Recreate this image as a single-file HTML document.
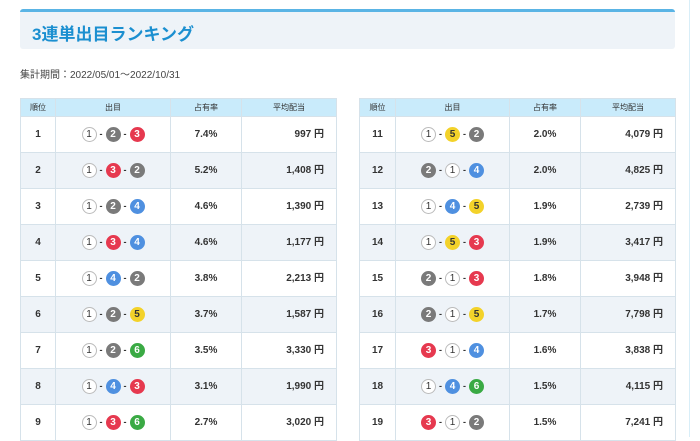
<!DOCTYPE html><html><head><meta charset="utf-8"><style>
body{margin:0;width:700px;height:437px;background:#fff;overflow:hidden;font-family:"Liberation Sans","Noto Sans CJK JP",sans-serif;color:#333;position:relative}
.hd{position:absolute;left:20px;top:9px;width:655px;height:37px;background:#eef3f8;border-top:3px solid #5ab4e5;border-radius:3px}
.hd span{position:absolute;left:12px;top:8px;font-size:17px;font-weight:bold;color:#1b8fd0}
.per{position:absolute;left:20px;top:66px;font-size:10px;color:#444}
table{position:absolute;top:98px;border-collapse:collapse;font-size:10px;table-layout:fixed}
td,th{border:1px solid #d6e2ea;padding:0;text-align:center;vertical-align:middle}
th{background:#c9ebfb;height:17px;font-weight:normal;font-size:8px;color:#333;line-height:17px}
td{height:35px;font-weight:bold;line-height:15px}
tr:nth-child(odd) td{background:#eef3f8}
td.y{text-align:right;padding-right:12px}
.b{display:inline-block;width:15px;height:15px;border-radius:50%;line-height:15px;font-size:10px;font-weight:bold;color:#fff;vertical-align:middle;box-sizing:border-box;text-align:center}
.d{display:inline-block;margin:0 3px;font-size:9px;vertical-align:middle}
.c1{background:#fff;border:1px solid #bbb;color:#333;line-height:13px;font-weight:normal}
.c2{background:#7a7a7a}.c3{background:#e6394f}.c4{background:#4f90e0}.c5{background:#f3d22a;color:#333}.c6{background:#3aaa44}
.sb{position:absolute;left:689px;top:0;width:1px;height:437px;background:#d8eef8}
</style></head><body>
<div class="hd"><span>3連単出目ランキング</span></div>
<div class="per">集計期間：2022/05/01～2022/10/31</div>
<div class="sb"></div>
<table style="left:20px;width:317px">
<tr><th style="width:34px">順位</th><th style="width:114px">出目</th><th style="width:70px">占有率</th><th>平均配当</th></tr>
<tr><td>1</td><td><span class="b c1">1</span><span class="d">-</span><span class="b c2">2</span><span class="d">-</span><span class="b c3">3</span></td><td>7.4%</td><td class="y">997 円</td></tr>
<tr><td>2</td><td><span class="b c1">1</span><span class="d">-</span><span class="b c3">3</span><span class="d">-</span><span class="b c2">2</span></td><td>5.2%</td><td class="y">1,408 円</td></tr>
<tr><td>3</td><td><span class="b c1">1</span><span class="d">-</span><span class="b c2">2</span><span class="d">-</span><span class="b c4">4</span></td><td>4.6%</td><td class="y">1,390 円</td></tr>
<tr><td>4</td><td><span class="b c1">1</span><span class="d">-</span><span class="b c3">3</span><span class="d">-</span><span class="b c4">4</span></td><td>4.6%</td><td class="y">1,177 円</td></tr>
<tr><td>5</td><td><span class="b c1">1</span><span class="d">-</span><span class="b c4">4</span><span class="d">-</span><span class="b c2">2</span></td><td>3.8%</td><td class="y">2,213 円</td></tr>
<tr><td>6</td><td><span class="b c1">1</span><span class="d">-</span><span class="b c2">2</span><span class="d">-</span><span class="b c5">5</span></td><td>3.7%</td><td class="y">1,587 円</td></tr>
<tr><td>7</td><td><span class="b c1">1</span><span class="d">-</span><span class="b c2">2</span><span class="d">-</span><span class="b c6">6</span></td><td>3.5%</td><td class="y">3,330 円</td></tr>
<tr><td>8</td><td><span class="b c1">1</span><span class="d">-</span><span class="b c4">4</span><span class="d">-</span><span class="b c3">3</span></td><td>3.1%</td><td class="y">1,990 円</td></tr>
<tr><td>9</td><td><span class="b c1">1</span><span class="d">-</span><span class="b c3">3</span><span class="d">-</span><span class="b c6">6</span></td><td>2.7%</td><td class="y">3,020 円</td></tr>
</table>
<table style="left:359px;width:317px">
<tr><th style="width:35px">順位</th><th style="width:113px">出目</th><th style="width:70px">占有率</th><th>平均配当</th></tr>
<tr><td>11</td><td><span class="b c1">1</span><span class="d">-</span><span class="b c5">5</span><span class="d">-</span><span class="b c2">2</span></td><td>2.0%</td><td class="y">4,079 円</td></tr>
<tr><td>12</td><td><span class="b c2">2</span><span class="d">-</span><span class="b c1">1</span><span class="d">-</span><span class="b c4">4</span></td><td>2.0%</td><td class="y">4,825 円</td></tr>
<tr><td>13</td><td><span class="b c1">1</span><span class="d">-</span><span class="b c4">4</span><span class="d">-</span><span class="b c5">5</span></td><td>1.9%</td><td class="y">2,739 円</td></tr>
<tr><td>14</td><td><span class="b c1">1</span><span class="d">-</span><span class="b c5">5</span><span class="d">-</span><span class="b c3">3</span></td><td>1.9%</td><td class="y">3,417 円</td></tr>
<tr><td>15</td><td><span class="b c2">2</span><span class="d">-</span><span class="b c1">1</span><span class="d">-</span><span class="b c3">3</span></td><td>1.8%</td><td class="y">3,948 円</td></tr>
<tr><td>16</td><td><span class="b c2">2</span><span class="d">-</span><span class="b c1">1</span><span class="d">-</span><span class="b c5">5</span></td><td>1.7%</td><td class="y">7,798 円</td></tr>
<tr><td>17</td><td><span class="b c3">3</span><span class="d">-</span><span class="b c1">1</span><span class="d">-</span><span class="b c4">4</span></td><td>1.6%</td><td class="y">3,838 円</td></tr>
<tr><td>18</td><td><span class="b c1">1</span><span class="d">-</span><span class="b c4">4</span><span class="d">-</span><span class="b c6">6</span></td><td>1.5%</td><td class="y">4,115 円</td></tr>
<tr><td>19</td><td><span class="b c3">3</span><span class="d">-</span><span class="b c1">1</span><span class="d">-</span><span class="b c2">2</span></td><td>1.5%</td><td class="y">7,241 円</td></tr>
</table>
</body></html>
